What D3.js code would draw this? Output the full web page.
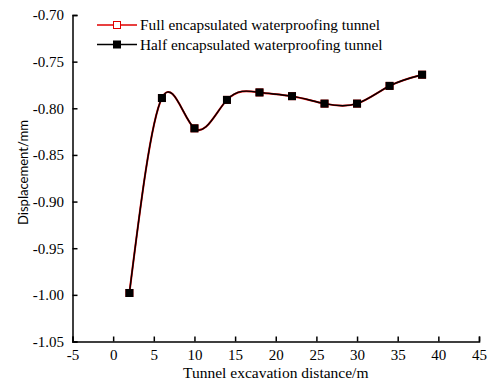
<!DOCTYPE html>
<html>
<head>
<meta charset="utf-8">
<script src="https://cdn.jsdelivr.net/npm/d3@7"></script>
<style>
  html, body { margin: 0; padding: 0; background: #fff; }
  svg { display: block; }
  .serif { font-family: "Liberation Serif", "Times New Roman", serif; font-size: 15px; }
  .legend-text { font-family: "Liberation Serif", "Times New Roman", serif; font-size: 15.3px; }
</style>
</head>
<body>
<script>
// Excavation distance (m) and settlement displacement (mm)
const distance = [2, 6, 10, 14, 18, 22, 26, 30, 34, 38];
const fullTunnel = [-0.998, -0.789, -0.8215, -0.791, -0.783, -0.787, -0.795, -0.795, -0.776, -0.764];
const halfTunnel = [-0.998, -0.789, -0.8215, -0.791, -0.783, -0.787, -0.795, -0.795, -0.776, -0.764];
const xTicks = [-5, 0, 5, 10, 15, 20, 25, 30, 35, 40, 45];
const yTicks = [-0.70, -0.75, -0.80, -0.85, -0.90, -0.95, -1.00, -1.05];
const seriesNames = ["Full encapsulated waterproofing tunnel", "Half encapsulated waterproofing tunnel"];

const W = 493, H = 383;
const plot = { left: 72.5, right: 479, top: 15, bottom: 341.5 };

const svg = d3.select("body").append("svg").attr("width", W).attr("height", H);

const x = d3.scaleLinear().domain([-5, 45]).range([plot.left, plot.right]);
const y = d3.scaleLinear().domain([-1.05, -0.70]).range([plot.bottom, plot.top]);

// Axes with inward ticks
const xAxis = svg.append("g").attr("transform", `translate(0,${plot.bottom})`)
  .call(d3.axisBottom(x).tickValues(xTicks).tickSize(-5).tickPadding(11));
const yAxis = svg.append("g").attr("transform", `translate(${plot.left},0)`)
  .call(d3.axisLeft(y).tickValues(yTicks).tickSize(-5).tickPadding(8.5));

[xAxis, yAxis].forEach(g => {
  g.attr("font-family", null).attr("font-size", null);
  g.select(".domain").attr("stroke", "#000").attr("stroke-width", 1.5);
  g.selectAll(".tick line").attr("stroke", "#000").attr("stroke-width", 1.5);
  g.selectAll(".tick text").attr("fill", "#000").attr("class", "serif");
});
xAxis.selectAll(".tick text").attr("dy", "0.5em").text(d => String(d));
yAxis.selectAll(".tick text").text(d => d.toFixed(2));

// Axis titles
svg.append("text")
  .attr("class", "serif").style("font-size", "15.5px")
  .attr("x", (plot.left + plot.right) / 2).attr("y", 378)
  .attr("text-anchor", "middle")
  .text("Tunnel excavation distance/m");

svg.append("text")
  .attr("transform", "translate(28,172.5) rotate(-90)")
  .attr("text-anchor", "middle")
  .attr("textLength", 105).attr("lengthAdjust", "spacingAndGlyphs")
  .style("font-family", "Lato, 'Open Sans', sans-serif").style("font-size", "14px")
  .text("Displacement/mm");

const line = d3.line()
  .x((d, i) => x(distance[i]))
  .y(d => y(d))
  .curve(d3.curveNatural);

// Full encapsulated: red line with open squares
svg.append("path").datum(fullTunnel)
  .attr("d", line).attr("fill", "none").attr("stroke", "#e00000").attr("stroke-width", 2);
svg.append("g").selectAll("rect").data(fullTunnel).join("rect")
  .attr("x", (d, i) => x(distance[i]) - 3.5).attr("y", d => y(d) - 3.5)
  .attr("width", 7).attr("height", 7)
  .attr("fill", "#fff").attr("stroke", "#e00000").attr("stroke-width", 1);

// Half encapsulated: black line with filled squares
svg.append("path").datum(halfTunnel)
  .attr("d", line).attr("fill", "none").attr("stroke", "#000").attr("stroke-width", 1.4);
svg.append("g").selectAll("rect").data(halfTunnel).join("rect")
  .attr("x", (d, i) => x(distance[i]) - 4).attr("y", d => y(d) - 4)
  .attr("width", 8).attr("height", 8)
  .attr("fill", "#000");

// Legend
const legend = svg.append("g");
const legendRows = [
  { name: seriesNames[0], color: "#e00000", fill: "#fff", yy: 25 },
  { name: seriesNames[1], color: "#000", fill: "#000", yy: 44.5 }
];
legendRows.forEach(r => {
  legend.append("line").attr("x1", 97).attr("x2", 137).attr("y1", r.yy).attr("y2", r.yy)
    .attr("stroke", r.color).attr("stroke-width", 1.6);
  legend.append("rect").attr("x", 117 - 3.5).attr("y", r.yy - 3.5).attr("width", 7).attr("height", 7)
    .attr("fill", r.fill).attr("stroke", r.color).attr("stroke-width", 1);
  legend.append("text").attr("class", "legend-text").attr("x", 140).attr("y", r.yy).attr("dy", "0.35em")
    .text(r.name);
});
</script>
</body>
</html>
